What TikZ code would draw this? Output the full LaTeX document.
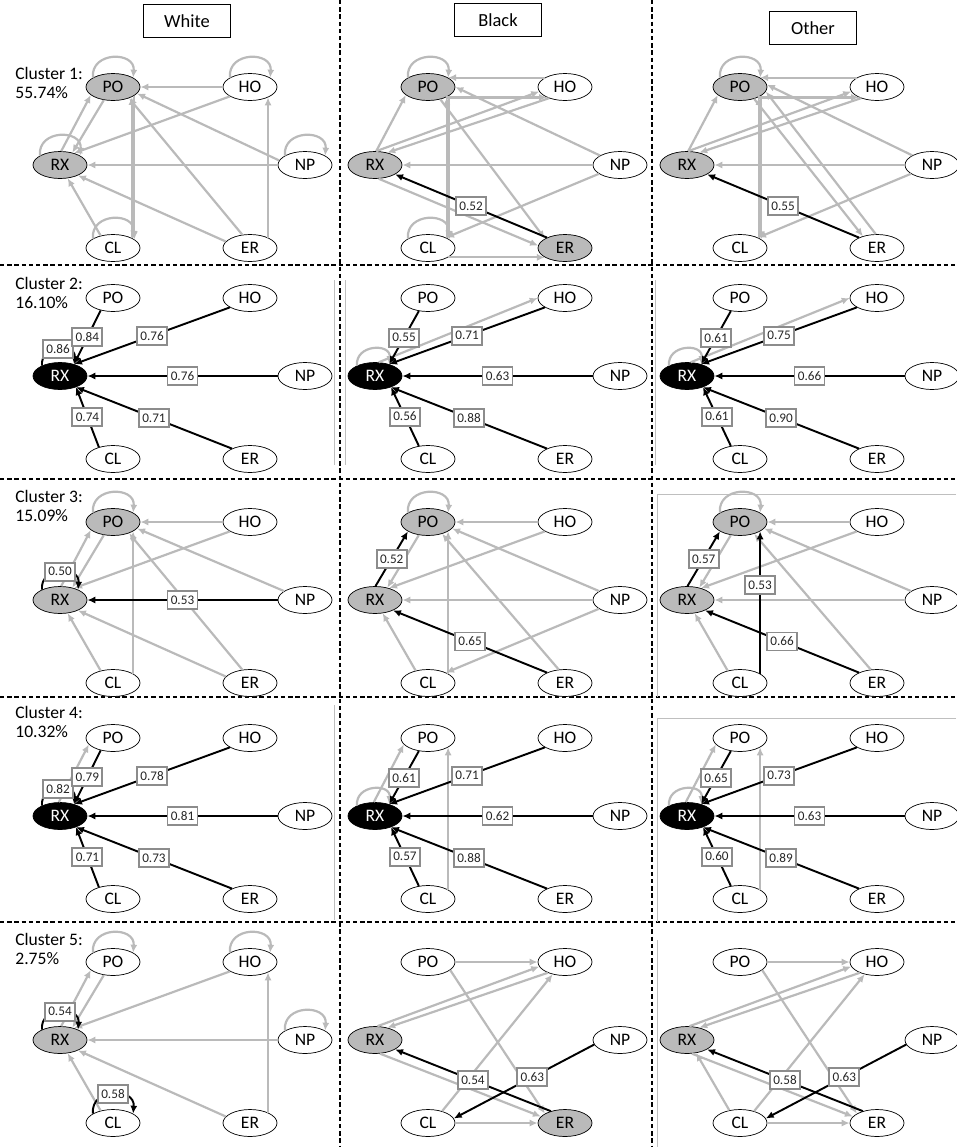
\documentclass[tikz,border=0pt]{standalone}
\usepackage{fontspec}
\setmainfont{Carlito}
\usetikzlibrary{shapes.geometric, arrows.meta, calc}

\newcommand{\clusternodes}[6]{%
  \node[cnode,#4] (#1po) at (#2+53,#3) {PO};
  \node[cnode] (#1ho) at (#2+190,#3) {HO};
  \node[cnode,#5] (#1rx) at (#2,#3+78) {RX};
  \node[cnode] (#1np) at (#2+245,#3+78) {NP};
  \node[cnode] (#1cl) at (#2+53,#3+161) {CL};
  \node[cnode,#6] (#1er) at (#2+190,#3+161) {ER};
}

\begin{document}
\begin{tikzpicture}[x=0.2mm, y=-0.2mm, >=Latex,
  cnode/.style={draw, ellipse, minimum width=10.8mm, minimum height=5.4mm, inner sep=0pt, fill=white, font=\fontsize{10}{12}\selectfont},
  wt/.style={fill=white},
  hi/.style={fill=black!27},
  dk/.style={fill=black, text=white},
  head/.style={draw, minimum width=17.4mm, minimum height=6.6mm, font=\fontsize{10.5}{12}\selectfont},
  clus/.style={anchor=north west, inner sep=0pt, align=left, font=\fontsize{10}{10.5}\selectfont},
  gedge/.style={draw=black!27, line width=1.25pt, -{Latex[length=4.5pt,width=4pt]}},
  bedge/.style={draw=black, line width=1.1pt, -{Latex[length=4.5pt,width=4pt]}},
  gloop/.style={gedge, out=95, in=85, looseness=1.7},
  bloop/.style={bedge, out=95, in=85, looseness=1.7},
  lbl/.style={draw=black!45, fill=white, font=\fontsize{7.5}{8}\selectfont, inner sep=1.3pt, minimum width=6mm, minimum height=3.6mm, text=black!85},
  sep/.style={dash pattern=on 2.5pt off 1.6pt, line width=0.6pt},
  frame/.style={draw=black!25, line width=0.4pt}]
\useasboundingbox (0,0) rectangle (956,1147);

\draw[sep] (0,265) -- (956,265);
\draw[sep] (0,479) -- (956,479);
\draw[sep] (0,697) -- (956,697);
\draw[sep] (0,922) -- (956,922);
\draw[sep] (340,0) -- (340,1147);
\draw[sep] (652,0) -- (652,1147);

\draw[frame] (334,280) -- (334,465);
\draw[frame] (345,280) -- (345,465);
\draw[frame] (655,280) -- (655,465);
\draw[frame] (956,494) -- (657,494) -- (657,697);
\draw[frame] (956,718) -- (657,718) -- (657,922);
\draw[frame] (334,705) -- (334,920);
\draw[frame] (657,940) -- (657,1147);

\node[head] (white) at (187,21) {White};
\node[head] (black) at (498,20) {Black};
\node[head] (other) at (813,28) {Other};

\node[clus] (c1) at (15,67) {Cluster 1:\\55.74\%};
\node[clus] (c2) at (15,277) {Cluster 2:\\16.10\%};
\node[clus] (c3) at (15,490) {Cluster 3:\\15.09\%};
\node[clus] (c4) at (15,706) {Cluster 4:\\10.32\%};
\node[clus] (c5) at (15,933) {Cluster 5:\\2.75\%};

\clusternodes{w1}{60}{87}{hi}{hi}{wt}
\clusternodes{b1}{375}{87}{hi}{hi}{hi}
\clusternodes{o1}{687}{87}{hi}{hi}{wt}
\clusternodes{w2}{60}{298}{wt}{dk}{wt}
\clusternodes{b2}{375}{298}{wt}{dk}{wt}
\clusternodes{o2}{687}{298}{wt}{dk}{wt}
\clusternodes{w3}{60}{522}{hi}{hi}{wt}
\clusternodes{b3}{375}{522}{hi}{hi}{wt}
\clusternodes{o3}{687}{522}{hi}{hi}{wt}
\clusternodes{w4}{60}{738}{wt}{dk}{wt}
\clusternodes{b4}{375}{738}{wt}{dk}{wt}
\clusternodes{o4}{687}{738}{wt}{dk}{wt}
\clusternodes{w5}{60}{962}{wt}{hi}{wt}
\clusternodes{b5}{375}{962}{wt}{hi}{hi}
\clusternodes{o5}{687}{962}{wt}{hi}{wt}

\draw[gloop] (w1po.155) to (w1po.25);
\draw[gloop] (w1ho.155) to (w1ho.25);
\draw[gloop] (w1rx.155) to (w1rx.25);
\draw[gloop] (w1np.155) to (w1np.25);
\draw[gloop] (w1cl.155) to (w1cl.25);
\draw[gedge] (w1ho) -- (w1po);
\draw[gedge] (w1rx.85) -- (w1po.200);
\draw[gedge] (w1po.235) -- (w1rx.45);
\draw[gedge] (w1po.-22) -- (w1cl.22);
\draw[gedge] (w1cl.28) -- (w1po.-28);
\draw[gedge] (w1ho.205) -- (w1rx.40);
\draw[gedge] (w1np) -- (w1rx);
\draw[gedge] (w1np.170) -- (w1po.-15);
\draw[gedge] (w1er.120) -- (w1po.-35);
\draw[gedge] (w1er.165) -- (w1rx.-30);
\draw[gedge] (w1er.30) -- (w1ho.-30);
\draw[gedge] (w1cl.135) -- (w1rx.-60);

\draw[gloop] (b1po.155) to (b1po.25);
\draw[gloop] (b1cl.155) to (b1cl.25);
\draw[gedge] (b1ho.155) -- (b1po.25);
\draw[gedge] (b1po.-30) -- (b1ho.210);
\draw[gedge] (b1rx.85) -- (b1po.200);
\draw[gedge] (b1rx.85) -- (b1ho.190);
\draw[gedge] (b1ho.215) -- (b1rx.45);
\draw[gedge] (b1po.-22) -- (b1cl.22);
\draw[gedge] (b1cl.28) -- (b1po.-28);
\draw[gedge] (b1po.-45) -- (b1er.155);
\draw[gedge] (b1np) -- (b1po.east);
\draw[gedge] (b1np) -- (b1rx);
\draw[gedge] (b1np) -- (b1cl.30);
\draw[gedge] (b1rx.-75) -- (b1er.175);
\draw[gedge] (b1cl.-25) -- (b1er.205);
\draw[bedge] (b1er.150) -- node[lbl]{0.52} (b1rx.-25);

\draw[gloop] (o1po.155) to (o1po.25);
\draw[gedge] (o1ho.155) -- (o1po.25);
\draw[gedge] (o1po.-30) -- (o1ho.210);
\draw[gedge] (o1rx.85) -- (o1po.200);
\draw[gedge] (o1rx.85) -- (o1ho.190);
\draw[gedge] (o1ho.215) -- (o1rx.45);
\draw[gedge] (o1po.-22) -- (o1cl.22);
\draw[gedge] (o1cl.28) -- (o1po.-28);
\draw[gedge] (o1po.-40) -- (o1er.140);
\draw[gedge] (o1er.95) -- (o1po.-10);
\draw[gedge] (o1np) -- (o1po.5);
\draw[gedge] (o1np) -- (o1rx);
\draw[gedge] (o1np) -- (o1cl.30);
\draw[bedge] (o1er.150) -- node[lbl]{0.55} (o1rx.-25);

\draw[bloop] (w2rx.150) to node[lbl]{0.86} (w2rx.40);
\draw[bedge] (w2po.225) -- node[lbl]{0.84} (w2rx.40);
\draw[bedge] (w2ho.205) -- node[lbl]{0.76} (w2rx.40);
\draw[bedge] (w2np) -- node[lbl]{0.76} (w2rx);
\draw[bedge] (w2cl.140) -- node[lbl]{0.74} (w2rx.-35);
\draw[bedge] (w2er.150) -- node[lbl]{0.71} (w2rx.-35);

\draw[gloop] (b2rx.150) to (b2rx.40);
\draw[gedge] (b2rx.75) -- (b2ho.west);
\draw[bedge] (b2po.235) -- node[lbl]{0.55} (b2rx.40);
\draw[bedge] (b2ho.205) -- node[lbl]{0.71} (b2rx.40);
\draw[bedge] (b2np) -- node[lbl]{0.63} (b2rx);
\draw[bedge] (b2cl.125) -- node[lbl]{0.56} (b2rx.-35);
\draw[bedge] (b2er.150) -- node[lbl]{0.88} (b2rx.-35);

\draw[gloop] (o2rx.150) to (o2rx.40);
\draw[gedge] (o2rx.75) -- (o2ho.west);
\draw[bedge] (o2po.235) -- node[lbl]{0.61} (o2rx.40);
\draw[bedge] (o2ho.205) -- node[lbl]{0.75} (o2rx.40);
\draw[bedge] (o2np) -- node[lbl]{0.66} (o2rx);
\draw[bedge] (o2cl.125) -- node[lbl]{0.61} (o2rx.-35);
\draw[bedge] (o2er.150) -- node[lbl]{0.90} (o2rx.-35);

\draw[gloop] (w3po.155) to (w3po.25);
\draw[gedge] (w3ho) -- (w3po);
\draw[gedge] (w3rx.85) -- (w3po.200);
\draw[gedge] (w3po.235) -- (w3rx.45);
\draw[gedge] (w3ho.205) -- (w3rx.40);
\draw[gedge] (w3np) -- (w3po.-15);
\draw[gedge] (w3er.120) -- (w3po.-35);
\draw[gedge] (w3er.165) -- (w3rx.-30);
\draw[gedge] (w3cl.135) -- (w3rx.-60);
\draw[gedge] (w3cl.25) -- (w3po.-25);
\draw[bloop] (w3rx.150) to node[lbl]{0.50} (w3rx.30);
\draw[bedge] (w3np) -- node[lbl]{0.53} (w3rx);

\draw[gloop] (b3po.155) to (b3po.25);
\draw[gedge] (b3ho) -- (b3po);
\draw[gedge] (b3po.235) -- (b3rx.45);
\draw[gedge] (b3ho.205) -- (b3rx.40);
\draw[gedge] (b3np) -- (b3rx);
\draw[gedge] (b3np) -- (b3po.-15);
\draw[gedge] (b3np) -- (b3cl.30);
\draw[gedge] (b3cl.25) -- (b3po.-25);
\draw[gedge] (b3cl.135) -- (b3rx.-60);
\draw[gedge] (b3er.115) -- (b3po.-40);
\draw[bedge] (b3rx.88) -- node[lbl]{0.52} (b3po.205);
\draw[bedge] (b3er.150) -- node[lbl]{0.65} (b3rx.-30);

\draw[gloop] (o3po.155) to (o3po.25);
\draw[gedge] (o3ho) -- (o3po);
\draw[gedge] (o3po.235) -- (o3rx.45);
\draw[gedge] (o3ho.205) -- (o3rx.40);
\draw[gedge] (o3np) -- (o3rx);
\draw[gedge] (o3np) -- (o3po.-15);
\draw[gedge] (o3er.115) -- (o3po.-40);
\draw[gedge] (o3cl.135) -- (o3rx.-60);
\draw[bedge] (o3rx.88) -- node[lbl]{0.57} (o3po.205);
\draw[bedge] (o3cl.25) -- node[lbl,pos=0.62]{0.53} (o3po.-25);
\draw[bedge] (o3er.150) -- node[lbl]{0.66} (o3rx.-30);

\draw[gedge] (w4rx.95) -- (w4po.195);
\draw[bloop] (w4rx.150) to node[lbl]{0.82} (w4rx.40);
\draw[bedge] (w4po.225) -- node[lbl]{0.79} (w4rx.40);
\draw[bedge] (w4ho.205) -- node[lbl]{0.78} (w4rx.40);
\draw[bedge] (w4np) -- node[lbl]{0.81} (w4rx);
\draw[bedge] (w4cl.140) -- node[lbl]{0.71} (w4rx.-35);
\draw[bedge] (w4er.150) -- node[lbl]{0.73} (w4rx.-35);

\draw[gloop] (b4rx.150) to (b4rx.40);
\draw[gedge] (b4rx.95) -- (b4po.195);
\draw[gedge] (b4cl.25) -- (b4po.-25);
\draw[bedge] (b4po.235) -- node[lbl]{0.61} (b4rx.40);
\draw[bedge] (b4ho.205) -- node[lbl]{0.71} (b4rx.40);
\draw[bedge] (b4np) -- node[lbl]{0.62} (b4rx);
\draw[bedge] (b4cl.125) -- node[lbl]{0.57} (b4rx.-35);
\draw[bedge] (b4er.150) -- node[lbl]{0.88} (b4rx.-35);

\draw[gloop] (o4rx.150) to (o4rx.40);
\draw[gedge] (o4rx.95) -- (o4po.195);
\draw[gedge] (o4cl.25) -- (o4po.-25);
\draw[bedge] (o4po.235) -- node[lbl]{0.65} (o4rx.40);
\draw[bedge] (o4ho.205) -- node[lbl]{0.73} (o4rx.40);
\draw[bedge] (o4np) -- node[lbl]{0.63} (o4rx);
\draw[bedge] (o4cl.125) -- node[lbl]{0.60} (o4rx.-35);
\draw[bedge] (o4er.150) -- node[lbl]{0.89} (o4rx.-35);

\draw[gloop] (w5po.155) to (w5po.25);
\draw[gloop] (w5ho.155) to (w5ho.25);
\draw[gloop] (w5np.155) to (w5np.25);
\draw[gedge] (w5rx.85) -- (w5po.200);
\draw[gedge] (w5po.235) -- (w5rx.45);
\draw[gedge] (w5ho.205) -- (w5rx.40);
\draw[gedge] (w5np) -- (w5rx);
\draw[gedge] (w5er.165) -- (w5rx.-30);
\draw[gedge] (w5er.30) -- (w5ho.-30);
\draw[gedge] (w5cl.135) -- (w5rx.-60);
\draw[bloop] (w5rx.150) to node[lbl]{0.54} (w5rx.30);
\draw[bloop] (w5cl.155) to node[lbl]{0.58} (w5cl.25);

\draw[gedge] (b5po) -- (b5ho);
\draw[gedge] (b5po.-20) -- (b5er.155);
\draw[gedge] (b5rx.80) -- (b5ho.190);
\draw[gedge] (b5ho.212) -- (b5rx.45);
\draw[gedge] (b5cl.40) -- (b5ho.225);
\draw[gedge] (b5rx.-70) -- (b5er.165);
\draw[gedge] (b5cl) -- (b5er);
\draw[bedge] (b5er.140) -- node[lbl]{0.54} (b5rx.-25);
\draw[bedge] (b5np.190) -- node[lbl,pos=0.44]{0.63} (b5cl.10);

\draw[gedge] (o5po) -- (o5ho);
\draw[gedge] (o5po.-20) -- (o5er.155);
\draw[gedge] (o5rx.80) -- (o5ho.190);
\draw[gedge] (o5ho.212) -- (o5rx.45);
\draw[gedge] (o5cl.40) -- (o5ho.225);
\draw[gedge] (o5rx.-70) -- (o5er.165);
\draw[gedge] (o5cl) -- (o5er);
\draw[gedge] (o5cl.130) -- (o5rx.-55);
\draw[bedge] (o5er.140) -- node[lbl]{0.58} (o5rx.-25);
\draw[bedge] (o5np.190) -- node[lbl,pos=0.44]{0.63} (o5cl.10);
\end{tikzpicture}
\end{document}
